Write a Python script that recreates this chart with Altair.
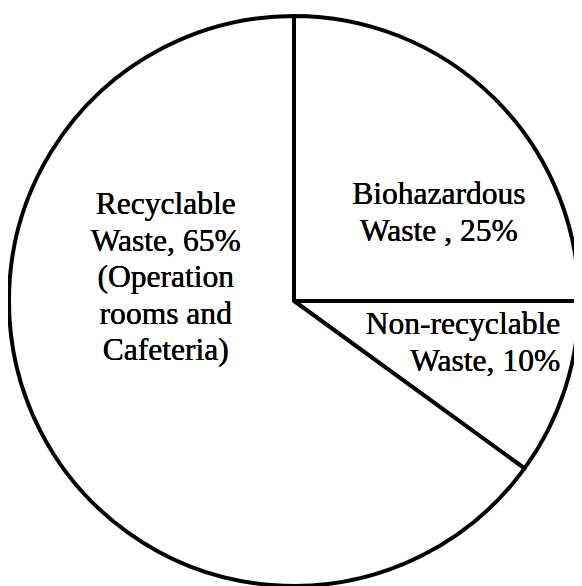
import altair as alt
import pandas as pd

categories = ["Biohazardous Waste", "Non-recyclable Waste", "Recyclable Waste"]
shares = [25, 10, 65]
order = [1, 2, 3]

label_bio = ["Biohazardous", "Waste , 25%"]
label_non = ["Non-recyclable", "Waste, 10%"]
label_rec = ["Recyclable", "Waste, 65%", "(Operation", "rooms and", "Cafeteria)"]

df = pd.DataFrame({"category": categories, "share": shares, "order": order})

CX, CY, R = 290, 293, 289
FONT = "Liberation Serif, Times New Roman, serif"

pie = alt.Chart(df).mark_arc(
    fill="white", stroke="black", strokeWidth=4, radius=R
).encode(
    theta=alt.Theta("share:Q", stack=True),
    order=alt.Order("order:Q"),
    x=alt.value(CX),
    y=alt.value(CY),
)

def label(lines, x, y, align):
    return alt.Chart(df).mark_text(
        text=lines, font=FONT, fontSize=32, lineHeight=37,
        align=align, baseline="alphabetic", color="black"
    ).encode(x=alt.value(x), y=alt.value(y))

chart = alt.layer(
    pie,
    label(label_bio, 437, 195, "center"),
    label(label_non, 560, 327, "right"),
    label(label_rec, 160, 205, "center"),
).properties(
    width=574, height=578, padding=0, autosize="none"
).configure_view(stroke=None)

chart.save("out.html", embed_options={"renderer": "svg", "actions": False})
